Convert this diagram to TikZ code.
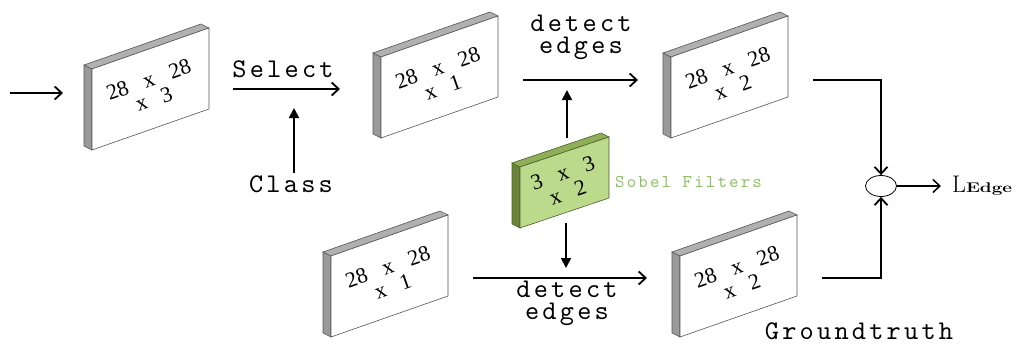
\documentclass[tikz,border=0pt]{standalone}
\usepackage{fontspec}
\newfontfamily\dimfont{Liberation Serif}
% spaced typewriter face for the captions
\newfontfamily\capfont[LetterSpace=12]{lmmono10-regular.otf}
\usetikzlibrary{arrows.meta,shapes.geometric}

\definecolor{mapside}{HTML}{9A9A9A}
\definecolor{maptop}{HTML}{B0B0B0}
\definecolor{mapedge}{HTML}{555555}
\definecolor{sobelface}{HTML}{BBDA8C}
\definecolor{sobelside}{HTML}{6B8339}
\definecolor{sobeltop}{HTML}{8FAE58}
\definecolor{sobeledge}{HTML}{4E5F2A}
\definecolor{sobeltext}{HTML}{8FC066}

\tikzset{
  wire/.style={line width=1.8pt},
  flow/.style={wire, -{Straight Barb[length=7pt,width=13pt]}},
  feed/.style={wire, -{Triangle[length=10pt,width=10pt]}},
  monolabel/.style={font=\capfont\fontsize{27}{22}\selectfont, inner sep=0pt, align=center},
  dims/.style={font=\dimfont\fontsize{22}{20}\selectfont, rotate=19.3, inner sep=0pt, align=center},
}

% size label: two lines, the second set a little to the left
\newcommand\sizes[3]{#1\hspace{0.75em}x\hspace{0.75em}#2\\x\hspace{0.7em}#3\hspace*{3pt}}

% feature map drawn as a thin slab: name, left x, bottom-left y, label
\newcommand\featmap[4]{%
  \filldraw[fill=mapside,draw=mapedge,line width=0.6pt]
    (#2,#3) -- (#2,#3-81) -- (#2-8,#3-85) -- (#2-8,#3-4) -- cycle;
  \filldraw[fill=maptop,draw=mapedge,line width=0.6pt]
    (#2,#3-81) -- (#2+117,#3-122) -- (#2+109,#3-126) -- (#2-8,#3-85) -- cycle;
  \filldraw[fill=white,draw=mapedge,line width=0.6pt]
    (#2,#3) -- (#2+117,#3-41) -- (#2+117,#3-122) -- (#2,#3-81) -- cycle;
  \node[dims] (#1) at (#2+60,#3-61) {#4};
}

\begin{document}
\begin{tikzpicture}[x=1pt,y=-1pt]
\useasboundingbox (0,0) rectangle (1018,343);

% feature maps
\featmap{m1}{92}{150}{\sizes{28}{28}{3}}
\featmap{m2}{381}{138}{\sizes{28}{28}{1}}
\featmap{m3}{671}{138}{\sizes{28}{28}{2}}
\featmap{m4}{331}{337}{\sizes{28}{28}{1}}
\featmap{m5}{680}{337}{\sizes{28}{28}{2}}

% Sobel filter slab
\filldraw[fill=sobelside,draw=sobeledge,line width=0.6pt]
  (520,228) -- (520,167) -- (512,163) -- (512,224) -- cycle;
\filldraw[fill=sobeltop,draw=sobeledge,line width=0.6pt]
  (520,167) -- (609,137) -- (601,133) -- (512,163) -- cycle;
\filldraw[fill=sobelface,draw=sobeledge,line width=0.6pt]
  (520,228) -- (609,198) -- (609,137) -- (520,167) -- cycle;
\node[dims, rotate=-0.7] (sobel) at (566,182.5) {\sizes{3}{3}{2}};
\node[font=\capfont\fontsize{18}{18}\selectfont, text=sobeltext, anchor=west, inner sep=0pt]
  (sobelname) at (615,182) {Sobel Filters};

% labels
\node[monolabel, anchor=base] (select) at (283,77) {Select};
\node[monolabel, anchor=base] (class) at (291,192) {Class};
\node[monolabel] (edges1) at (581,37) {detect\\edges};
\node[monolabel] (edges2) at (567,303) {detect\\edges};
\node[monolabel, anchor=base] (gt) at (859,339) {Groundtruth};
\node[anchor=base west, inner sep=0pt] (loss) at (952,192)
  {\fontsize{24}{24}\selectfont L\fontsize{14}{14}\selectfont\scalebox{1.35}[1]{\bfseries Edge}};

% connector end points
\coordinate (in0) at (10,93);
\coordinate (in1) at (63,93);
\coordinate (sel0) at (233,89);
\coordinate (sel1) at (340,89);
\coordinate (clshead) at (294,108);
\coordinate (up0) at (567,138);
\coordinate (up1) at (567,90);
\coordinate (dn0) at (566,223);
\coordinate (dn1) at (566,268);
\coordinate (top0) at (523,80);
\coordinate (top1) at (638,80);
\coordinate (bot0) at (473,278);
\coordinate (bot1) at (647,278);
\coordinate (pr0) at (813,80);
\coordinate (gt0) at (822,278);
\coordinate (lossin) at (941,186);

\node[draw, ellipse, line width=0.8pt, minimum width=31pt, minimum height=21pt, inner sep=0pt]
  (sum) at (881,186) {};

% connectors
\draw[flow] (in0) -- (in1);
\draw[flow] (sel0) -- (sel1);
\draw[feed] ([yshift=2pt]class.north -| clshead) -- (clshead);
\draw[flow] (top0) -- (top1);
\draw[flow] (bot0) -- (bot1);
\draw[feed] (up0) -- (up1);
\draw[feed] (dn0) -- (dn1);
\draw[flow] (pr0) -| (sum.north);
\draw[flow] (gt0) -| (sum.south);
\draw[flow, line width=1.5pt] (sum.east) -- (lossin);
\end{tikzpicture}
\end{document}
